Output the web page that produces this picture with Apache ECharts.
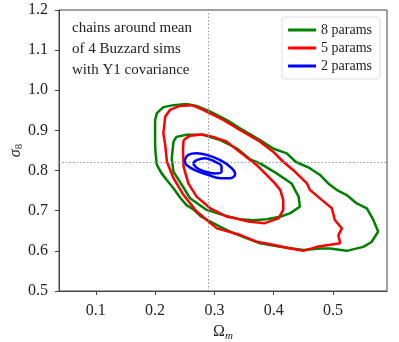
<!DOCTYPE html>
<html>
<head>
<meta charset="utf-8">
<script src="https://cdn.jsdelivr.net/npm/echarts@6/dist/echarts.min.js"></script>
<style>
	html, body { margin: 0; padding: 0; background: #fff; }
	#chart { width: 399px; height: 342px; }
</style>
</head>
<body>
<div id="chart"></div>
<script>
	// contour outlines, [Omega_m, sigma_8]
	const params8Outer = [[0.253,0.966],[0.231,0.963],[0.214,0.958],[0.203,0.943],[0.200,0.926],[0.200,0.893],[0.200,0.864],[0.201,0.840],[0.203,0.814],[0.211,0.793],[0.220,0.776],[0.231,0.756],[0.242,0.733],[0.253,0.714],[0.264,0.704],[0.278,0.685],[0.310,0.660],[0.332,0.644],[0.355,0.631],[0.377,0.619],[0.411,0.610],[0.450,0.602],[0.478,0.606],[0.495,0.606],[0.523,0.600],[0.551,0.610],[0.565,0.622],[0.576,0.648],[0.568,0.677],[0.557,0.706],[0.540,0.718],[0.523,0.739],[0.506,0.752],[0.492,0.768],[0.478,0.789],[0.461,0.806],[0.437,0.822],[0.422,0.843],[0.399,0.855],[0.377,0.876],[0.343,0.905],[0.321,0.926],[0.293,0.947],[0.270,0.961],[0.253,0.966]];
	const params8Inner = [[0.231,0.872],[0.236,0.884],[0.253,0.889],[0.281,0.889],[0.310,0.876],[0.338,0.855],[0.360,0.828],[0.377,0.818],[0.405,0.793],[0.430,0.768],[0.442,0.735],[0.444,0.710],[0.428,0.694],[0.411,0.685],[0.388,0.679],[0.366,0.676],[0.343,0.679],[0.315,0.689],[0.287,0.702],[0.259,0.731],[0.242,0.772],[0.231,0.797],[0.228,0.830],[0.231,0.872]];
	const params5Outer = [[0.262,0.963],[0.242,0.961],[0.225,0.951],[0.217,0.934],[0.214,0.893],[0.217,0.864],[0.220,0.822],[0.231,0.781],[0.248,0.739],[0.270,0.698],[0.304,0.656],[0.343,0.640],[0.371,0.623],[0.399,0.615],[0.428,0.606],[0.450,0.600],[0.473,0.610],[0.495,0.615],[0.512,0.619],[0.509,0.639],[0.515,0.656],[0.503,0.677],[0.498,0.706],[0.481,0.727],[0.461,0.752],[0.456,0.768],[0.433,0.801],[0.416,0.822],[0.399,0.847],[0.377,0.872],[0.343,0.901],[0.315,0.926],[0.281,0.951],[0.262,0.963]];
	const params5Inner = [[0.248,0.876],[0.259,0.887],[0.279,0.890],[0.298,0.884],[0.321,0.872],[0.343,0.846],[0.371,0.814],[0.388,0.789],[0.402,0.768],[0.411,0.752],[0.416,0.727],[0.416,0.702],[0.408,0.681],[0.385,0.669],[0.357,0.673],[0.335,0.681],[0.321,0.685],[0.293,0.706],[0.270,0.735],[0.256,0.768],[0.248,0.810],[0.247,0.851],[0.248,0.876]];
	const params2Outer = [[0.250,0.826],[0.256,0.839],[0.270,0.843],[0.287,0.839],[0.310,0.826],[0.329,0.806],[0.335,0.791],[0.326,0.781],[0.310,0.781],[0.290,0.789],[0.267,0.801],[0.253,0.814],[0.250,0.826]];
	const params2Inner = [[0.264,0.818],[0.270,0.826],[0.284,0.831],[0.301,0.822],[0.312,0.810],[0.312,0.797],[0.301,0.793],[0.281,0.799],[0.270,0.807],[0.264,0.818]];

	const seriesNames = ['8 params', '5 params', '2 params'];
	const seriesColors = ['#008000', '#ff0000', '#0000ff'];
	const fiducial = [0.286, 0.82]; // Omega_m, sigma_8
	const xTicks = [0.1, 0.2, 0.3, 0.4, 0.5];
	const xRange = [0.038, 0.591];
	const yRange = [0.5, 1.2];
	const noteLines = ['chains around mean', 'of 4 Buzzard sims', 'with Y1 covariance'];

	const serif = '"Liberation Serif", "DejaVu Serif", serif';
	const contours = [
		[params8Outer, params8Inner],
		[params5Outer, params5Inner],
		[params2Outer, params2Inner]
	];

	const series = [];
	contours.forEach((pair, i) => {
		pair.forEach(pts => {
			series.push({
				type: 'line',
				name: seriesNames[i],
				data: pts,
				showSymbol: false,
				symbol: 'none',
				lineStyle: { color: seriesColors[i], width: 2.5 },
				itemStyle: { color: seriesColors[i] },
				smooth: i === 2 ? 0.4 : false,
				z: 3 + i
			});
		});
	});
	// 参考线
	series.push({
		type: 'line',
		data: [],
		z: 2,
		markLine: {
			silent: true,
			symbol: 'none',
			label: { show: false },
			lineStyle: { color: '#999', type: [1.5, 2], width: 1 },
			data: [{ xAxis: fiducial[0] }, { yAxis: fiducial[1] }]
		}
	});

	const myChart = echarts.init(document.getElementById('chart'));
	myChart.setOption({
		animation: false,
		grid: { left: 59, right: 12, top: 10, bottom: 51, outerBoundsMode: 'none', show: true, borderColor: '#444', borderWidth: 1 },
		legend: {
			data: seriesNames,
			orient: 'vertical',
			right: 19,
			top: 17,
			padding: [6, 8, 6, 6],
			itemGap: 4,
			itemWidth: 28,
			itemHeight: 3,
			icon: 'rect',
			borderColor: '#ddd',
			borderWidth: 1,
			borderRadius: 3,
			textStyle: { fontFamily: serif, fontSize: 14, color: '#222' }
		},
		xAxis: {
			type: 'value',
			min: xRange[0],
			max: xRange[1],
			name: '{a|Ω}{b|m}',
			nameLocation: 'middle',
			nameGap: 31,
			nameTextStyle: {
				rich: {
					a: { fontFamily: serif, fontSize: 16, color: '#222' },
					b: { fontFamily: serif, fontSize: 11, fontStyle: 'italic', color: '#222', padding: [8, 0, 0, 0] }
				}
			},
			axisLine: { show: true, lineStyle: { color: '#444', width: 1 } },
			axisTick: { show: true, inside: false, length: 4, customValues: xTicks, lineStyle: { color: '#444' } },
			axisLabel: { customValues: xTicks, margin: 12, fontFamily: serif, fontSize: 16, color: '#222', formatter: v => v.toFixed(1) },
			splitLine: { show: false }
		},
		yAxis: {
			type: 'value',
			min: yRange[0],
			max: yRange[1],
			interval: 0.1,
			name: '{a|σ}{b|8}',
			nameLocation: 'middle',
			nameRotate: 90,
			nameGap: 34,
			nameMoveOverlap: false,
			nameTextStyle: {
				rich: {
					a: { fontFamily: serif, fontSize: 16, fontStyle: 'italic', color: '#222' },
					b: { fontFamily: serif, fontSize: 11, color: '#222', padding: [8, 0, 0, 0] }
				}
			},
			axisLine: { show: true, lineStyle: { color: '#444', width: 1 } },
			axisTick: { show: true, inside: false, length: 4, lineStyle: { color: '#444' } },
			axisLabel: { margin: 11, fontFamily: serif, fontSize: 16, color: '#222', formatter: v => v.toFixed(1) },
			splitLine: { show: false }
		},
		graphic: noteLines.map((t, i) => ({
			type: 'text',
			left: 72,
			top: 21 + i * 21,
			style: { text: t, fontFamily: serif, fontSize: 15, fill: '#222' }
		})),
		series: series
	});
	window.addEventListener('resize', function () {
		myChart.resize();
	});
</script>
</body>
</html>
